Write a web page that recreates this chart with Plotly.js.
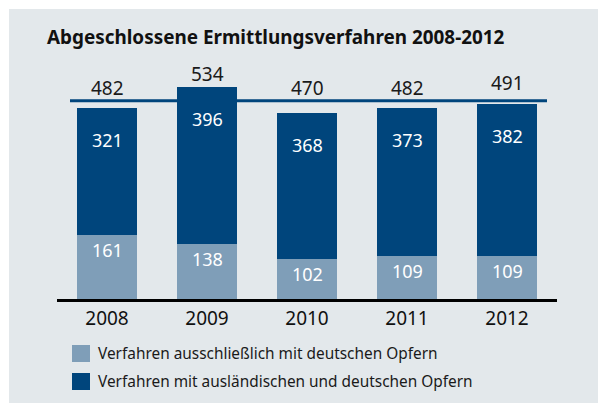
<!DOCTYPE html>
<html><head><meta charset="utf-8">
<script src="https://cdn.plot.ly/plotly-3.0.1.min.js"></script>
<style>
html,body{margin:0;padding:0;background:#ffffff;}
#chart{position:absolute;left:9px;top:9px;width:589px;height:394px;}
</style></head>
<body><div id="chart"></div>
<script>
const years = ['2008', '2009', '2010', '2011', '2012'];
const germanOnly = [161, 138, 102, 109, 109];
const foreignAndGerman = [321, 396, 368, 373, 382];
const seriesNames = ['Verfahren ausschließlich mit deutschen Opfern', 'Verfahren mit ausländischen und deutschen Opfern'];
const referenceLevel = 500;
const chartTitle = 'Abgeschlossene Ermittlungsverfahren 2008-2012';

const totals = germanOnly.map((v, i) => v + foreignAndGerman[i]);
const LIGHT = '#7f9eb8';
const DARK = '#00457c';
const FONT = 'Noto Sans, sans-serif';

const traces = [
  {type: 'bar', x: years, y: germanOnly, name: seriesNames[0], marker: {color: LIGHT}, hoverinfo: 'skip'},
  {type: 'bar', x: years, y: foreignAndGerman, name: seriesNames[1], marker: {color: DARK}, hoverinfo: 'skip'}
];

const annotations = [];
years.forEach((yr, i) => {
  annotations.push({x: i, y: Math.max(totals[i], referenceLevel), text: String(totals[i]), showarrow: false,
    yanchor: 'middle', yshift: 13 + (totals[i] > 485 && totals[i] < referenceLevel ? 5 : 0),
    font: {family: FONT, size: 19, color: '#1a1a1a'}});
  annotations.push({x: i, y: totals[i], text: String(foreignAndGerman[i]), showarrow: false, yanchor: 'middle', yshift: -32,
    font: {family: FONT, size: 18, color: '#ffffff'}});
  annotations.push({x: i, y: germanOnly[i], text: String(germanOnly[i]), showarrow: false, yanchor: 'middle', yshift: -15,
    font: {family: FONT, size: 18, color: '#ffffff'}});
});

const legendColors = [LIGHT, DARK];
const shapes = [
  {type: 'line', xref: 'x', yref: 'y', x0: -0.37, x1: 4.40, y0: referenceLevel, y1: referenceLevel,
   line: {color: DARK, width: 3}, layer: 'below'}
];
seriesNames.forEach((nm, k) => {
  const top = 336 + k * 28;
  shapes.push({type: 'rect', xref: 'paper', yref: 'paper',
    x0: (63 - 48) / 500, x1: (81 - 48) / 500,
    y0: (290 - (top + 17)) / 238, y1: (290 - top) / 238,
    line: {width: 0}, fillcolor: legendColors[k]});
  annotations.push({xref: 'paper', yref: 'paper', x: (87 - 48) / 500, y: (290 - (top + 8.5)) / 238,
    xanchor: 'left', yanchor: 'middle', showarrow: false, text: nm,
    font: {family: FONT, size: 15.4, color: '#1a1a1a'}});
});

const layout = {
  width: 589, height: 394,
  paper_bgcolor: '#e3e8eb', plot_bgcolor: 'rgba(0,0,0,0)',
  margin: {l: 48, r: 41, t: 52, b: 104},
  barmode: 'stack', bargap: 0.4, showlegend: false,
  title: {text: '<b>' + chartTitle + '</b>', x: 38 / 589, xanchor: 'left', xref: 'container',
    y: 1 - 28 / 394, yanchor: 'middle', yref: 'container',
    font: {family: FONT, size: 18.9, color: '#111111'}},
  xaxis: {type: 'category', range: [-0.5, 4.5], showline: true, linecolor: '#000000', linewidth: 3,
    showgrid: false, zeroline: false, ticks: '', tickfont: {family: FONT, size: 19, color: '#111111'}},
  yaxis: {range: [0, 600], visible: false, showgrid: false, zeroline: false},
  annotations: annotations, shapes: shapes
};

Plotly.newPlot('chart', traces, layout, {displayModeBar: false, staticPlot: true});
</script></body></html>
